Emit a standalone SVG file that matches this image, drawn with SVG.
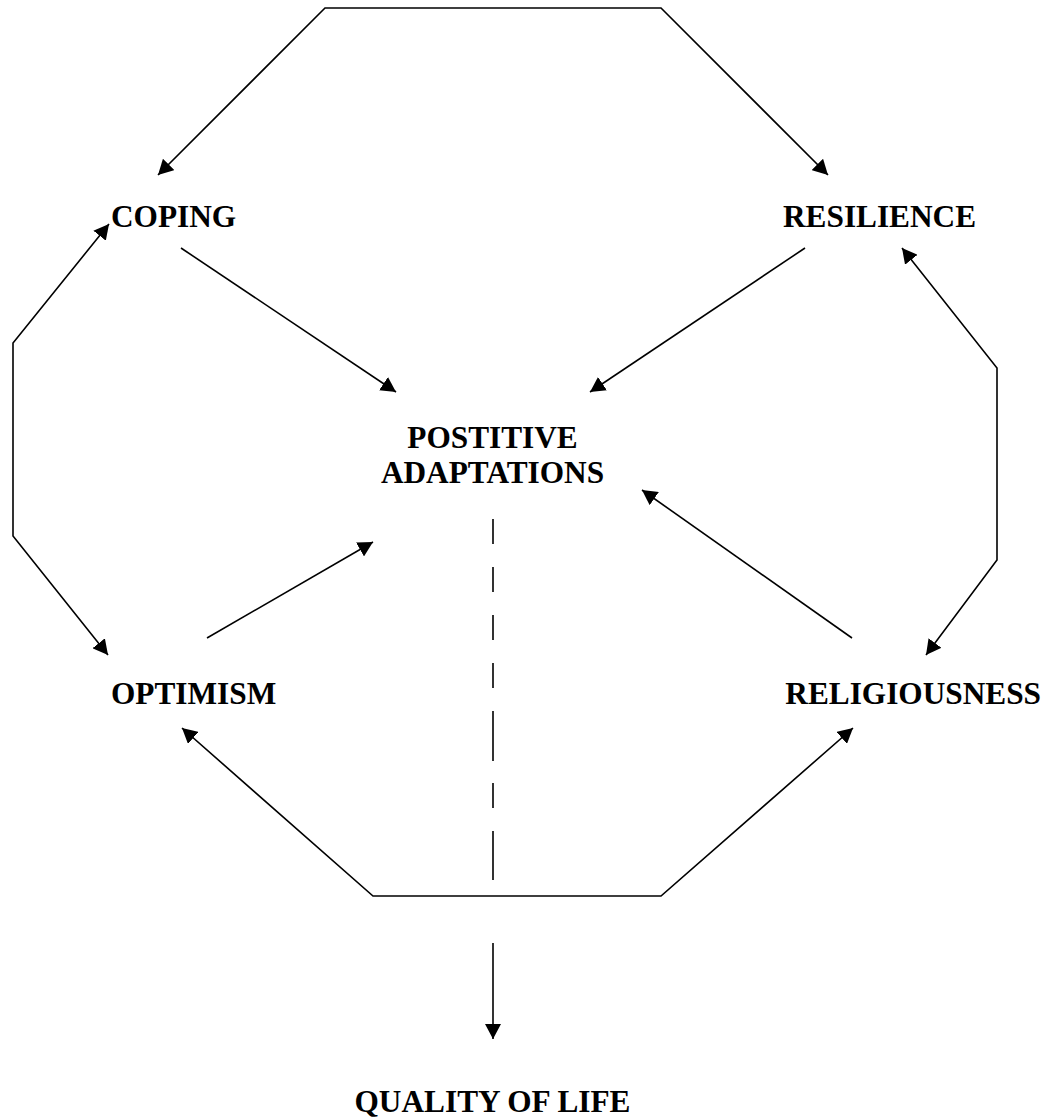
<svg xmlns="http://www.w3.org/2000/svg" width="1050" height="1118" viewBox="0 0 1050 1118">
<style>
.lbl{font-family:"Liberation Serif","Times New Roman",serif;font-weight:bold;font-size:31.3px;fill:#000}
.ln{fill:none;stroke:#000;stroke-width:1.6}
</style>
<defs>
<marker id="ah" markerUnits="userSpaceOnUse" markerWidth="16" markerHeight="16" refX="15" refY="8" orient="auto-start-reverse" viewBox="0 0 16 16">
<path d="M0,0 L15,8 L0,16 z" fill="#000"/>
</marker>
</defs>
<rect width="1050" height="1118" fill="#fff"/>
<g id="connectors">
<polyline class="ln" points="158,175 325,8 661,8 828,175" marker-start="url(#ah)" marker-end="url(#ah)"/>
<polyline class="ln" points="109,224 13,343 13,536 108,655" marker-start="url(#ah)" marker-end="url(#ah)"/>
<polyline class="ln" points="902,248 997,368 997,560 926,655" marker-start="url(#ah)" marker-end="url(#ah)"/>
<polyline class="ln" points="182,728 373,896 661,896 853,728" marker-start="url(#ah)" marker-end="url(#ah)"/>
<line class="ln" x1="181" y1="248" x2="396" y2="392" marker-end="url(#ah)"/>
<line class="ln" x1="805" y1="248" x2="590" y2="392" marker-end="url(#ah)"/>
<line class="ln" x1="207" y1="638" x2="373" y2="542" marker-end="url(#ah)"/>
<line class="ln" x1="852" y1="638" x2="642" y2="490" marker-end="url(#ah)"/>
<path class="ln" d="M493,519 V544 M493,567 V592 M493,615 V640 M493,663 V688 M493,711 V761 M493,783 V808 M493,831 V880"/>
<line class="ln" x1="493" y1="943" x2="493" y2="1039" marker-end="url(#ah)"/>
</g>
<g id="coping"><text class="lbl" x="111" y="227">COPING</text></g>
<g id="resilience"><text class="lbl" x="783" y="227">RESILIENCE</text></g>
<g id="positive-adaptations"><text class="lbl" x="492.5" y="448" text-anchor="middle">POSTITIVE</text><text class="lbl" x="492.5" y="483" text-anchor="middle">ADAPTATIONS</text></g>
<g id="optimism"><text class="lbl" x="111" y="704">OPTIMISM</text></g>
<g id="religiousness"><text class="lbl" x="1041" y="704" text-anchor="end">RELIGIOUSNESS</text></g>
<g id="quality-of-life"><text class="lbl" x="492.5" y="1112" text-anchor="middle">QUALITY OF LIFE</text></g>
</svg>
